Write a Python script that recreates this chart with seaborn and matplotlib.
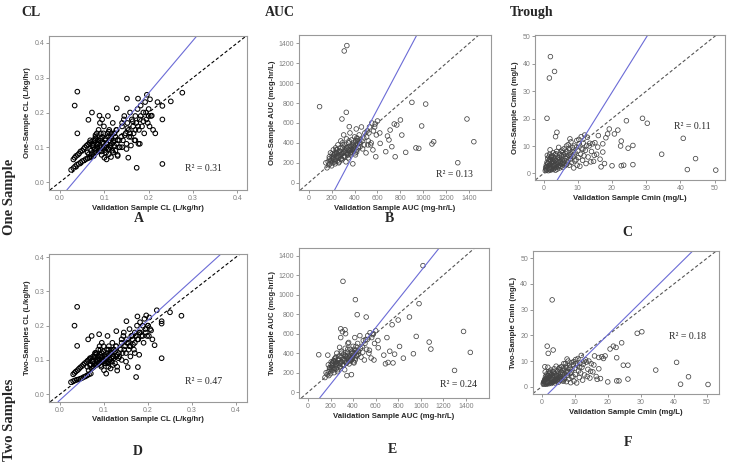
import numpy as np
import pandas as pd
import matplotlib
matplotlib.use('Agg')
import matplotlib.pyplot as plt
import seaborn as sns

# ---- CL column (panels A, D) ----
cl_valid = [
    0.025, 0.030, 0.034, 0.038, 0.042, 0.046, 0.050, 0.054, 0.058, 0.062, 0.066, 0.070,
    0.030, 0.033, 0.036, 0.040, 0.043, 0.046, 0.050, 0.053, 0.056, 0.060, 0.063, 0.066, 0.070, 0.075, 0.080,
    0.072, 0.074, 0.076, 0.078, 0.080, 0.082, 0.084, 0.086, 0.088, 0.090,
    0.092, 0.094, 0.096, 0.098, 0.100, 0.102, 0.104, 0.106, 0.108, 0.110,
    0.112, 0.114, 0.116, 0.118, 0.120, 0.122, 0.125, 0.128, 0.130, 0.133,
    0.070, 0.075, 0.079, 0.083, 0.087, 0.091, 0.095, 0.099, 0.103, 0.107,
    0.111, 0.115, 0.119, 0.123, 0.127, 0.065, 0.068, 0.073, 0.077, 0.081,
    0.085, 0.089, 0.093, 0.097, 0.101, 0.105, 0.109, 0.113, 0.117, 0.121,
    0.135, 0.138, 0.140, 0.142, 0.145, 0.148, 0.150, 0.152, 0.155, 0.158,
    0.160, 0.162, 0.165, 0.168, 0.170, 0.172, 0.175, 0.178, 0.180, 0.182,
    0.185, 0.188, 0.190, 0.192, 0.195, 0.198, 0.200, 0.202, 0.205, 0.210,
    0.100, 0.105, 0.110, 0.115, 0.120, 0.125, 0.130, 0.140, 0.150, 0.160, 0.170, 0.180,
    0.033, 0.039, 0.039, 0.154, 0.173, 0.231, 0.276, 0.250, 0.231, 0.231, 0.215, 0.207,
    0.203, 0.196, 0.176, 0.151, 0.128, 0.108, 0.089, 0.072, 0.064, 0.130, 0.220, 0.177,
    0.062, 0.068, 0.074, 0.080, 0.086, 0.092, 0.098, 0.104, 0.110, 0.116,
    0.122, 0.128, 0.134, 0.140, 0.146, 0.152, 0.158, 0.164, 0.170, 0.176,
    0.182, 0.188, 0.194, 0.200, 0.144, 0.156, 0.166, 0.090, 0.095, 0.085,
]
cl_one = [
    0.035, 0.040, 0.045, 0.050, 0.052, 0.056, 0.060, 0.062, 0.066, 0.068, 0.070, 0.072,
    0.065, 0.070, 0.075, 0.078, 0.082, 0.088, 0.090, 0.095, 0.100, 0.105, 0.108, 0.112, 0.115, 0.120, 0.125,
    0.080, 0.110, 0.075, 0.095, 0.130, 0.085, 0.100, 0.120, 0.090, 0.105,
    0.140, 0.078, 0.115, 0.095, 0.100, 0.125, 0.085, 0.110, 0.130, 0.095,
    0.120, 0.100, 0.140, 0.090, 0.115, 0.105, 0.130, 0.110, 0.120, 0.100,
    0.090, 0.100, 0.120, 0.140, 0.150, 0.120, 0.130, 0.160, 0.120, 0.140,
    0.150, 0.130, 0.170, 0.140, 0.150, 0.080, 0.095, 0.105, 0.085, 0.092,
    0.108, 0.098, 0.088, 0.110, 0.092, 0.100, 0.095, 0.105, 0.110, 0.120,
    0.100, 0.130, 0.160, 0.120, 0.190, 0.140, 0.110, 0.170, 0.150, 0.200,
    0.130, 0.180, 0.160, 0.120, 0.190, 0.170, 0.210, 0.150, 0.180, 0.220,
    0.160, 0.200, 0.140, 0.230, 0.180, 0.170, 0.210, 0.160, 0.190, 0.150,
    0.070, 0.065, 0.080, 0.072, 0.085, 0.090, 0.078, 0.100, 0.095, 0.105, 0.120, 0.110,
    0.220, 0.260, 0.140, 0.070, 0.041, 0.052, 0.257, 0.232, 0.219, 0.180, 0.140, 0.191,
    0.238, 0.251, 0.240, 0.240, 0.212, 0.190, 0.191, 0.200, 0.179, 0.075, 0.230, 0.110,
    0.085, 0.120, 0.105, 0.135, 0.115, 0.125, 0.140, 0.110, 0.145, 0.125,
    0.140, 0.150, 0.120, 0.170, 0.135, 0.155, 0.140, 0.175, 0.150, 0.160,
    0.190, 0.175, 0.200, 0.190, 0.180, 0.130, 0.140, 0.170, 0.180, 0.110,
]
cl_two = [
    0.035, 0.038, 0.040, 0.042, 0.043, 0.045, 0.047, 0.050, 0.052, 0.055, 0.058, 0.060,
    0.058, 0.062, 0.066, 0.070, 0.074, 0.078, 0.082, 0.086, 0.090, 0.094, 0.098, 0.100, 0.105, 0.110, 0.115,
    0.075, 0.100, 0.080, 0.090, 0.120, 0.085, 0.095, 0.110, 0.090, 0.100,
    0.130, 0.080, 0.110, 0.095, 0.100, 0.115, 0.090, 0.105, 0.120, 0.095,
    0.115, 0.100, 0.130, 0.095, 0.110, 0.105, 0.125, 0.110, 0.115, 0.105,
    0.085, 0.095, 0.110, 0.120, 0.130, 0.110, 0.120, 0.140, 0.110, 0.130,
    0.140, 0.120, 0.150, 0.130, 0.140, 0.070, 0.085, 0.095, 0.080, 0.085,
    0.100, 0.090, 0.085, 0.100, 0.090, 0.095, 0.090, 0.100, 0.105, 0.110,
    0.110, 0.130, 0.150, 0.120, 0.180, 0.140, 0.120, 0.160, 0.150, 0.190,
    0.140, 0.170, 0.160, 0.130, 0.180, 0.170, 0.200, 0.160, 0.180, 0.210,
    0.170, 0.200, 0.150, 0.220, 0.180, 0.170, 0.200, 0.170, 0.190, 0.160,
    0.070, 0.060, 0.080, 0.075, 0.085, 0.090, 0.080, 0.100, 0.095, 0.110, 0.120, 0.115,
    0.200, 0.255, 0.141, 0.079, 0.050, 0.105, 0.229, 0.239, 0.213, 0.206, 0.143, 0.186,
    0.224, 0.230, 0.227, 0.213, 0.184, 0.170, 0.175, 0.170, 0.160, 0.069, 0.245, 0.079,
    0.080, 0.105, 0.095, 0.120, 0.105, 0.115, 0.125, 0.105, 0.130, 0.120,
    0.130, 0.140, 0.120, 0.160, 0.130, 0.150, 0.140, 0.170, 0.150, 0.160,
    0.180, 0.170, 0.190, 0.200, 0.170, 0.130, 0.145, 0.140, 0.150, 0.100,
]

# ---- AUC column (panels B, E) ----
auc_valid = [
    95, 310, 333, 328, 290, 354, 420, 436, 516, 1020,
    985, 900, 800, 746, 1380, 960, 1075, 812, 1090, 1440,
    1300, 846, 935, 710, 768, 687, 725, 623, 672, 585,
    754, 700,
    150, 160, 170, 175, 180, 185, 190, 195, 200, 205,
    210, 215, 220, 225, 230, 235, 240, 245, 250, 255,
    260, 265, 270, 275, 280, 285, 290, 295, 300, 305,
    310, 315, 320, 325, 330, 335, 340, 345, 350, 355,
    360, 365, 370, 375, 380, 385, 390, 395, 400, 405,
    410, 415, 420, 425, 430, 440, 450, 460, 470, 480,
    490, 500, 510, 520, 530, 540, 550, 560, 575, 590,
    600,
    210, 218, 226, 234, 242, 250, 258, 266, 274, 282,
    290, 298, 306, 314, 322, 330, 338, 346, 354, 362,
    370, 378, 386, 394, 402, 410, 418, 426, 434, 442,
    180, 195, 205, 215, 228, 238, 248, 262, 272, 285,
    295, 308, 318, 328, 342, 352, 365, 378, 392, 408,
    425, 448, 465, 485, 505, 525, 545, 565, 580, 620,
]
auc_one = [
    764, 1323, 1377, 707, 640, 563, 450, 420, 380, 790,
    570, 807, 630, 590, 640, 345, 389, 479, 412, 412,
    201, 305, 350, 529, 580, 469, 362, 395, 312, 261,
    261, 430,
    200, 150, 210, 180, 240, 190, 300, 220, 170, 260,
    200, 330, 230, 280, 190, 350, 250, 300, 220, 380,
    270, 210, 320, 260, 420, 290, 230, 350, 300, 480,
    270, 380, 330, 210, 440, 300, 360, 250, 400, 320,
    500, 280, 370, 430, 330, 190, 400, 350, 460, 300,
    380, 540, 330, 420, 360, 480, 400, 560, 340, 450,
    500, 300, 520, 420, 560, 380, 600, 330, 560, 480,
    620,
    240, 280, 300, 220, 330, 270, 250, 310, 350, 240,
    290, 380, 260, 320, 300, 350, 280, 330, 360, 300,
    340, 310, 380, 330, 360, 420, 310, 390, 350, 400,
    260, 230, 290, 250, 210, 300, 330, 200, 280, 240,
    400, 310, 260, 350, 280, 420, 330, 300, 370, 280,
    440, 360, 420, 380, 460, 500, 400, 520, 590, 500,
]
auc_two = [
    384, 1137, 600, 640, 560, 500, 949, 795, 771, 1298,
    908, 771, 740, 692, 623, 572, 514, 469, 442, 408,
    223, 349, 394, 305, 390, 291, 420, 456, 380, 330,
    300, 560,
    150, 200, 180, 380, 210, 170, 250, 230, 190, 280,
    220, 300, 250, 320, 200, 340, 270, 310, 240, 400,
    290, 230, 340, 280, 460, 300, 650, 360, 310, 620,
    280, 390, 340, 230, 450, 310, 370, 170, 410, 330,
    510, 290, 380, 440, 340, 180, 420, 360, 470, 310,
    400, 560, 350, 430, 380, 500, 420, 580, 360, 470,
    530, 330, 540, 440, 580, 400, 610, 350, 590, 500,
    630,
    250, 300, 320, 240, 350, 290, 270, 330, 370, 260,
    310, 400, 280, 340, 320, 370, 300, 350, 380, 320,
    360, 330, 400, 350, 380, 440, 330, 410, 370, 420,
    280, 250, 310, 270, 230, 320, 360, 210, 300, 260,
    420, 330, 280, 380, 300, 440, 350, 320, 400, 300,
    470, 390, 450, 410, 500, 540, 430, 560, 600, 530,
]

# ---- Trough column (panels C, F) ----
cmin_valid = [
    2.0, 3.2, 1.7, 1.0, 3.5, 3.9, 24.2, 28.9, 30.3, 34.5,
    40.8, 44.4, 42.0, 50.3, 26.1, 24.7, 22.7, 23.4, 22.7, 26.1,
    21.7, 20.7, 20.0, 18.2, 17.3, 17.3, 17.8, 16.8, 15.8, 14.8,
    13.8, 13.3, 19.2, 18.7, 22.5,
    0.5, 0.6, 0.7, 0.8, 0.9, 1.0, 1.0, 1.1, 1.2, 1.2,
    1.3, 1.4, 1.5, 1.5, 1.6, 1.7, 1.8, 1.8, 1.9, 2.0,
    2.0, 2.1, 2.2, 2.2, 2.3, 2.4, 2.5, 2.5, 2.6, 2.7,
    2.8, 2.8, 2.9, 3.0, 3.0, 3.1, 3.2, 3.3, 3.4, 3.5,
    3.5, 3.6, 3.7, 3.8, 3.9, 4.0, 4.0, 4.1, 4.2, 4.3,
    4.4, 4.5, 4.6, 4.7, 4.8, 4.9, 5.0, 5.1, 5.2, 5.3,
    5.4, 5.5, 5.6, 5.8, 5.9, 6.0, 6.1, 6.2, 6.4, 6.5,
    6.6, 6.8, 6.9, 7.0, 7.2, 7.3, 7.5, 7.6, 7.8, 8.0,
    8.0, 8.2, 8.4, 8.6, 8.8, 9.0, 9.2, 9.5, 9.7, 9.8,
    10.0, 10.2, 10.4, 10.6, 10.8, 11.0, 11.2, 11.4, 11.6, 11.8,
    12.0, 12.2, 12.4, 12.6, 12.8, 13.0, 13.5, 14.0, 14.3, 14.6,
    15.0, 15.5, 16.0, 16.5,
    0.8, 1.3, 1.7, 2.3, 2.7, 3.1, 3.6, 4.2, 4.6, 5.2,
    5.7, 6.3, 6.8, 7.4, 7.9, 8.5, 9.1, 9.6, 1.1, 1.9,
    2.6, 3.3, 4.0, 4.9, 5.6, 6.7, 7.7, 8.9, 10.3, 11.5,
]
cmin_one = [
    42.6, 37.2, 34.8, 20.1, 13.4, 15.0, 19.2, 20.1, 18.3, 7.0,
    12.8, 5.4, 1.4, 1.2, 10.2, 9.2, 11.8, 3.0, 2.8, 3.2,
    15.8, 14.4, 2.8, 13.0, 10.8, 7.8, 3.6, 2.4, 9.6, 6.6,
    4.2, 10.0, 16.2, 14.4, 10.0,
    1.0, 2.0, 1.5, 3.0, 1.2, 2.5, 4.0, 1.8, 3.5, 5.5,
    2.2, 1.0, 4.5, 2.8, 6.0, 1.5, 3.2, 7.0, 2.0, 4.8,
    1.2, 3.0, 5.8, 2.4, 1.6, 4.0, 6.5, 2.0, 3.4, 5.0,
    1.4, 7.5, 2.6, 4.2, 3.0, 1.8, 5.6, 2.8, 6.8, 3.6,
    1.2, 4.6, 2.2, 8.0, 3.2, 5.2, 1.6, 6.0, 2.5, 4.0,
    9.5, 3.0, 5.8, 2.0, 7.0, 3.8, 4.5, 2.6, 6.4, 3.4,
    8.5, 5.0, 2.2, 6.8, 3.6, 9.0, 4.8, 2.8, 7.2, 5.4,
    3.2, 8.0, 6.0, 4.2, 10.5, 6.6, 3.0, 8.6, 5.2, 11.5,
    7.0, 4.0, 9.4, 6.0, 2.0, 10.0, 7.6, 5.0, 12.0, 3.0,
    8.2, 5.8, 10.8, 2.6, 7.0, 13.4, 9.0, 4.8, 11.0, 6.4,
    14.0, 8.4, 3.6, 10.2, 13.2, 6.0, 11.0, 8.0, 10.8, 4.4,
    11.2, 7.0, 13.8, 5.2,
    2.4, 3.8, 5.0, 6.2, 4.4, 2.2, 7.2, 3.6, 5.0, 8.0,
    4.0, 6.0, 3.4, 9.2, 6.2, 8.0, 4.6, 9.6, 6.6, 8.6,
    2.8, 4.8, 3.2, 4.2, 7.6, 10.0, 12.6, 6.8, 12.4, 8.8,
]
cmin_two = [
    13.0, 33.8, 15.8, 7.8, 14.3, 5.0, 17.1, 20.8, 21.4, 6.5,
    9.5, 3.9, 1.0, 0.9, 8.4, 8.4, 11.3, 2.3, 2.3, 3.0,
    15.8, 14.7, 1.9, 11.7, 11.4, 7.0, 3.2, 2.9, 8.5, 6.0,
    4.0, 10.5, 12.0, 11.0, 15.3,
    1.2, 1.5, 2.0, 1.0, 2.5, 1.8, 3.0, 1.2, 2.2, 4.0,
    1.5, 2.8, 3.5, 1.0, 5.0, 2.0, 2.6, 1.4, 3.2, 4.2,
    1.8, 2.3, 6.0, 1.2, 3.8, 2.9, 5.5, 1.6, 2.4, 3.6,
    2.0, 6.5, 1.3, 3.1, 4.8, 2.2, 4.4, 1.7, 5.8, 2.7,
    3.5, 2.0, 4.0, 7.0, 2.5, 3.8, 1.5, 5.0, 3.0, 2.2,
    8.0, 4.5, 3.3, 2.6, 6.0, 2.9, 5.2, 1.8, 4.6, 3.6,
    7.5, 2.7, 4.1, 5.6, 3.0, 7.8, 2.4, 4.8, 6.2, 3.8,
    2.2, 7.0, 5.0, 3.4, 9.0, 5.8, 2.0, 7.4, 4.4, 10.0,
    6.0, 3.0, 8.4, 5.2, 1.6, 9.4, 6.6, 4.0, 9.8, 2.2,
    7.2, 4.8, 9.0, 1.5, 8.4, 11.0, 6.2, 3.6, 9.2, 5.4,
    12.2, 7.6, 2.6, 8.8, 10.0, 4.6, 9.6, 6.8, 10.0, 3.4,
    9.0, 5.8, 12.0, 4.0,
    2.0, 3.0, 4.4, 5.2, 3.6, 1.8, 6.0, 2.8, 4.2, 7.0,
    3.2, 5.4, 2.8, 8.0, 5.4, 7.2, 3.8, 8.6, 5.8, 7.6,
    2.4, 4.0, 2.6, 3.6, 6.6, 9.0, 10.8, 5.8, 10.6, 7.6,
]

# fitted lines (slope, intercept) and R squared per panel
fit_slope = {'A': 1.51, 'B': 2.17, 'C': 2.0, 'D': 1.165, 'E': 1.45, 'F': 1.27}
fit_icpt = {'A': -0.046, 'B': -563, 'C': -10.4, 'D': -0.017, 'E': -209, 'F': -5.2}
r2_text = {'A': '0.31', 'B': '0.13', 'C': '0.11', 'D': '0.47', 'E': '0.24', 'F': '0.18'}

sns.set_style('white')
plt.rcParams['font.family'] = ['Liberation Sans', 'DejaVu Sans']

fig = plt.figure(figsize=(7.29, 4.62), dpi=100)

panels = [
    # key, rect, x, y, xlabel, ylabel, xlim, ylim, ticks, tick fmt, r2 pos
    ('A', [0.0672, 0.5887, 0.2716, 0.3333], cl_valid, cl_one,
     'Validation Sample CL (L/kg/hr)', 'One-Sample CL (L/kg/hr)',
     (-0.025, 0.422), (-0.023, 0.42), [0, 0.1, 0.2, 0.3, 0.4], '%.1f', (0.78, 0.14)),
    ('B', [0.4102, 0.5887, 0.2634, 0.3355], auc_valid, auc_one,
     'Validation Sample AUC (mg-hr/L)', 'One-Sample AUC (mcg-hr/L)',
     (-84, 1590), (-73, 1483), list(range(0, 1401, 200)), '%d', (0.81, 0.10)),
    ('C', [0.7339, 0.6104, 0.2606, 0.3139], cmin_valid, cmin_one,
     'Validation Sample Cmin (mg/L)', 'One-Sample Cmin (mg/L)',
     (-2.5, 53), (-2.4, 50.5), list(range(0, 51, 10)), '%d', (0.83, 0.37)),
    ('D', [0.0672, 0.1305, 0.2716, 0.3203], cl_valid, cl_two,
     'Validation Sample CL (L/kg/hr)', 'Two-Samples CL (L/kg/hr)',
     (-0.025, 0.425), (-0.022, 0.41), [0, 0.1, 0.2, 0.3, 0.4], '%.1f', (0.78, 0.135)),
    ('E', [0.4102, 0.1385, 0.2606, 0.3247], auc_valid, auc_two,
     'Validation Sample AUC (mg-hr/L)', 'Two-Sample AUC (mcg-hr/L)',
     (-80, 1606), (-60, 1479), list(range(0, 1401, 200)), '%d', (0.84, 0.087)),
    ('F', [0.7311, 0.1472, 0.2551, 0.3095], cmin_valid, cmin_two,
     'Validation Sample Cmin (mg/L)', 'Two-Sample Cmin (mg/L)',
     (-2.6, 53.6), (-2.8, 52.8), list(range(0, 51, 10)), '%d', (0.83, 0.40)),
]

for key, rect, xv, yv, xl, yl, xlim, ylim, ticks, fmt, r2pos in panels:
    ax = fig.add_axes(rect)
    df = pd.DataFrame({'x': xv, 'y': yv})
    dark = key in ('A', 'D')
    sns.scatterplot(data=df, x='x', y='y', ax=ax, marker='o', s=11,
                    facecolor='none', edgecolor='black' if dark else '#444444',
                    linewidth=0.75 if dark else 0.55, legend=False)
    ax.axline((0, 0), slope=1, color='black' if dark else '#555555',
              lw=0.8, ls=(0, (3, 2)))
    ax.axline((0, fit_icpt[key]), slope=fit_slope[key], color='#6b6bd6', lw=0.8)
    ax.set_xlim(xlim)
    ax.set_ylim(ylim)
    ax.set_xticks(ticks)
    ax.set_yticks(ticks)
    ax.set_xticklabels([fmt % t for t in ticks])
    ax.set_yticklabels([fmt % t for t in ticks])
    ax.tick_params(axis='both', which='both', length=2, width=0.6, color='#888888',
                   labelsize=5, labelcolor='#808080', pad=1.5, bottom=True, left=True)
    for sp in ax.spines.values():
        sp.set_color('#999999')
        sp.set_linewidth(0.8)
    ax.set_xlabel(xl, fontsize=5.6, fontweight='bold', labelpad=2)
    ax.set_ylabel(yl, fontsize=5.6, fontweight='bold', labelpad=2)
    ax.text(r2pos[0], r2pos[1], 'R\u00b2 = ' + r2_text[key], transform=ax.transAxes,
            ha='center', va='center', fontsize=7, family='Liberation Serif')

serif = ['Liberation Serif', 'DejaVu Serif']
fig.text(0.030, 0.972, 'CL', fontsize=10, fontweight='bold', family=serif, va='center')
fig.text(0.3635, 0.972, 'AUC', fontsize=10, fontweight='bold', family=serif, va='center')
fig.text(0.6996, 0.974, 'Trough', fontsize=10, fontweight='bold', family=serif, va='center')
fig.text(0.0137, 0.574, 'One Sample', fontsize=10.5, fontweight='bold', family=serif,
         rotation=90, ha='center', va='center')
fig.text(0.0137, 0.091, 'Two Samples', fontsize=10.5, fontweight='bold', family=serif,
         rotation=90, ha='center', va='center')

letters = {'A': (0.190, 0.526), 'B': (0.534, 0.526), 'C': (0.860, 0.496),
           'D': (0.189, 0.022), 'E': (0.538, 0.026), 'F': (0.861, 0.043)}
for k, (lx, ly) in letters.items():
    fig.text(lx, ly, k, fontsize=10, fontweight='bold', family=serif,
             ha='center', va='center')

fig.savefig('out.png', dpi=100)
